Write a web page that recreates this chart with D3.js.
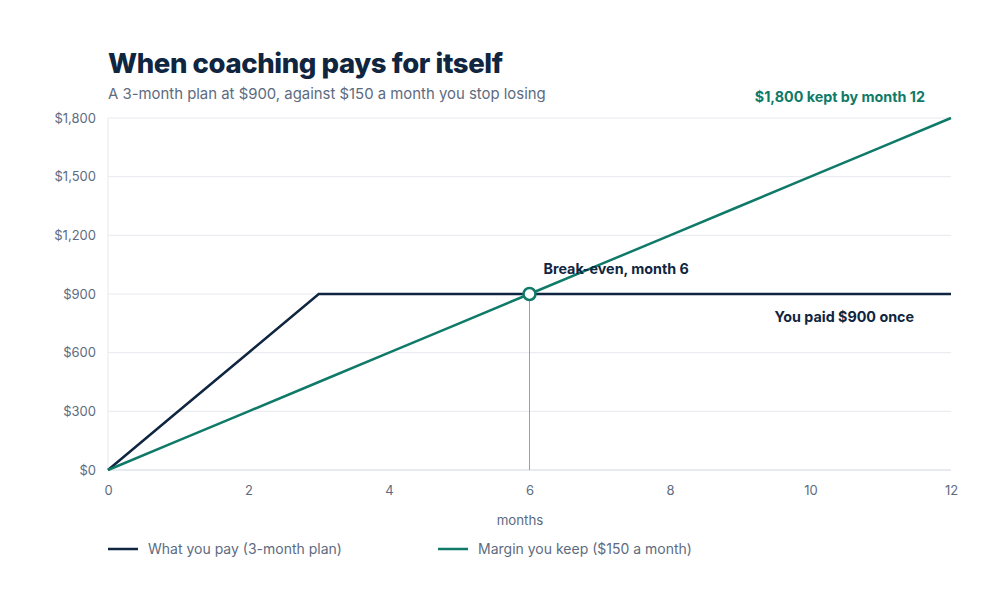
<!DOCTYPE html>
<html>
<head>
<meta charset="utf-8">
<script src="https://cdn.jsdelivr.net/npm/d3@7"></script>
<style>
  body { margin: 0; background: #fff; }
  svg { display: block; font-family: Inter, "Noto Sans", sans-serif; }
</style>
</head>
<body>
<svg id="chart" width="1000" height="596"></svg>
<script>
const months = [0, 1, 2, 3, 4, 5, 6, 7, 8, 9, 10, 11, 12];
const paid = [0, 300, 600, 900, 900, 900, 900, 900, 900, 900, 900, 900, 900];
const kept = [0, 150, 300, 450, 600, 750, 900, 1050, 1200, 1350, 1500, 1650, 1800];
const xTicks = [0, 2, 4, 6, 8, 10, 12];
const yTicks = [0, 300, 600, 900, 1200, 1500, 1800];
const breakEven = { month: 6, value: 900 };

const navy = '#0f2540';
const teal = '#0f7a68';
const grey = '#5d6b7f';

const svg = d3.select('#chart');
const x = d3.scaleLinear().domain([0, 12]).range([108, 951]);
const y = d3.scaleLinear().domain([0, 1800]).range([470, 118]);

// title
svg.append('text').attr('x', 108).attr('y', 73)
  .attr('font-size', 27.5).attr('font-weight', 800).attr('fill', navy)
  .attr('letter-spacing', -0.4)
  .text('When coaching pays for itself');
svg.append('text').attr('x', 108).attr('y', 99)
  .attr('font-size', 14.9).attr('fill', grey)
  .text('A 3-month plan at $900, against $150 a month you stop losing');

// grid
svg.append('g').selectAll('line').data(yTicks).join('line')
  .attr('x1', x(0)).attr('x2', x(12))
  .attr('y1', d => y(d)).attr('y2', d => y(d))
  .attr('stroke', d => d === 0 ? '#cfd5dd' : '#e6e9ee').attr('stroke-width', 1);
svg.append('line').attr('x1', x(0)).attr('x2', x(0)).attr('y1', y(1800)).attr('y2', y(0))
  .attr('stroke', '#e6e9ee');

// y axis
const yAxis = svg.append('g').attr('transform', `translate(${x(0)},0)`)
  .call(d3.axisLeft(y).tickValues(yTicks).tickSize(0).tickPadding(12)
    .tickFormat(d => '$' + d3.format(',')(d)));
yAxis.select('.domain').remove();
yAxis.selectAll('text').attr('font-size', 13).attr('fill', grey).attr('font-family', 'Inter, sans-serif');

// x axis
const xAxis = svg.append('g').attr('transform', `translate(0,${y(0)})`)
  .call(d3.axisBottom(x).tickValues(xTicks).tickSize(0).tickPadding(16));
xAxis.select('.domain').remove();
xAxis.selectAll('text').attr('font-size', 13).attr('fill', grey).attr('font-family', 'Inter, sans-serif');
svg.append('text').attr('x', 520).attr('y', 525)
  .attr('text-anchor', 'middle').attr('font-size', 13.3).attr('fill', grey).text('months');

// break-even drop line
svg.append('line').attr('x1', x(breakEven.month)).attr('x2', x(breakEven.month))
  .attr('y1', y(breakEven.value)).attr('y2', y(0))
  .attr('stroke', '#96a1b0').attr('stroke-width', 1);

const line = d3.line().x((d, i) => x(months[i])).y(d => y(d));
svg.append('path').datum(paid).attr('d', line)
  .attr('fill', 'none').attr('stroke', navy).attr('stroke-width', 2.5);
svg.append('path').datum(kept).attr('d', line)
  .attr('fill', 'none').attr('stroke', teal).attr('stroke-width', 2.5);

svg.append('circle').attr('cx', x(breakEven.month)).attr('cy', y(breakEven.value)).attr('r', 6)
  .attr('fill', '#fff').attr('stroke', teal).attr('stroke-width', 2.5);

// annotations
svg.append('text').attr('x', x(breakEven.month) + 14).attr('y', 274)
  .attr('font-size', 14.3).attr('font-weight', 700).attr('fill', navy)
  .text('Break-even, month 6');
svg.append('text').attr('x', 914).attr('y', 322).attr('text-anchor', 'end')
  .attr('font-size', 14.3).attr('font-weight', 700).attr('fill', navy)
  .text('You paid $900 once');
svg.append('text').attr('x', 925).attr('y', 102).attr('text-anchor', 'end')
  .attr('font-size', 14.3).attr('font-weight', 700).attr('fill', teal)
  .text('$1,800 kept by month 12');

// legend
const legend = [
  { label: 'What you pay (3-month plan)', color: navy, x: 108 },
  { label: 'Margin you keep ($150 a month)', color: teal, x: 438 }
];
const lg = svg.append('g').selectAll('g').data(legend).join('g')
  .attr('transform', d => `translate(${d.x},549)`);
lg.append('line').attr('x1', 0).attr('x2', 30).attr('stroke', d => d.color).attr('stroke-width', 2.5);
lg.append('text').attr('x', 40).attr('y', 5).attr('font-size', 14).attr('fill', grey)
  .text(d => d.label);
</script>
</body>
</html>
